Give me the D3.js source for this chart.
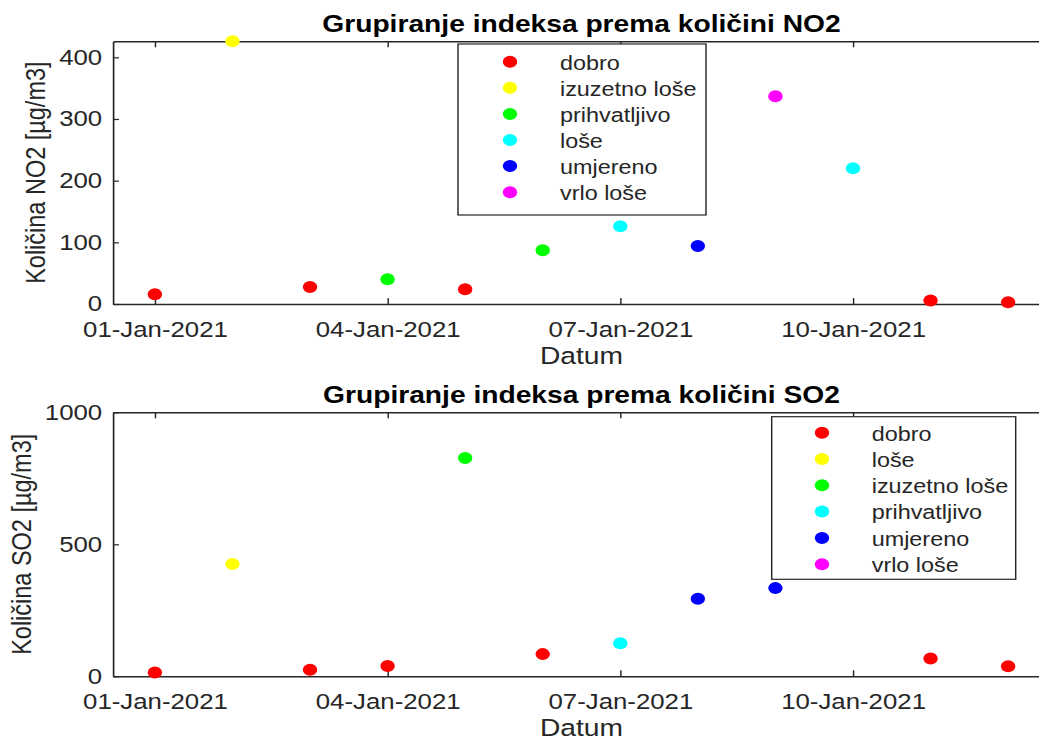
<!DOCTYPE html>
<html>
<head>
<meta charset="utf-8">
<script src="https://cdn.jsdelivr.net/npm/d3@7"></script>
<style>
body { margin: 0; background: #fff; }
text { font-family: "Liberation Sans", Arial, sans-serif; }
</style>
</head>
<body>
<svg id="chart" width="1039" height="742"></svg>
<script>
var dates = ['2021-01-01', '2021-01-02', '2021-01-03', '2021-01-04', '2021-01-05', '2021-01-06',
             '2021-01-07', '2021-01-08', '2021-01-09', '2021-01-10', '2021-01-11', '2021-01-12'];

var no2Values = [16, 426, 27.5, 40, 24, 87, 126, 94, 337, 220, 5.5, 3];
var no2Groups = ['dobro', 'izuzetno loše', 'dobro', 'prihvatljivo', 'dobro', 'prihvatljivo',
                 'loše', 'umjereno', 'vrlo loše', 'loše', 'dobro', 'dobro'];

// SO2 on 10-Jan has no visible point, only its group in the legend
var so2Values = [14, 425, 25, 39, 827, 84, 125, 294, 334, null, 67, 38];
var so2Groups = ['dobro', 'loše', 'dobro', 'dobro', 'izuzetno loše', 'dobro',
                 'prihvatljivo', 'umjereno', 'umjereno', 'vrlo loše', 'dobro', 'dobro'];

var no2Ticks = [0, 100, 200, 300, 400];
var so2Ticks = [0, 500, 1000];
var dateTicks = ['2021-01-01', '2021-01-04', '2021-01-07', '2021-01-10'];

// gscatter colours, given in order of first appearance
var groupColors = ['#ff0000', '#ffff00', '#00ff00', '#00ffff', '#0000ff', '#ff00ff'];

var SX = 1.2; // the picture is stretched sideways
var INK = '#262626';

var svg = d3.select('#chart');
svg.append('rect').attr('width', 1039).attr('height', 742).attr('fill', '#fff');
var root = svg.append('g').attr('transform', 'scale(' + SX + ',1)');

var parseDay = d3.utcParse('%Y-%m-%d');
var DAY = 864e5;
var x = d3.scaleUtc()
    .domain([+parseDay(dates[0]) - 0.54 * DAY, +parseDay(dates[dates.length - 1]) + 0.54 * DAY])
    .range([113 / SX, 1050 / SX]);
var fmt = d3.utcFormat('%d-%b-%Y');

function styleAxis(g) {
    g.attr('font-size', 21.5).attr('font-family', '"Liberation Sans", Arial, sans-serif');
    g.select('.domain').attr('stroke', INK).attr('stroke-width', 1.4);
    g.selectAll('.tick line').attr('stroke', INK).attr('stroke-width', 1.2);
    g.selectAll('.tick text').attr('fill', INK);
}

function drawPanel(values, groups, yTicks, yMax, top, bottom, title, yLabel, leg) {
    var left = x.range()[0], right = x.range()[1];
    var y = d3.scaleLinear().domain([0, yMax]).range([bottom, top]);

    var cats = [];
    groups.forEach(function(g) { if (cats.indexOf(g) < 0) cats.push(g); });
    var color = d3.scaleOrdinal(cats, groupColors);

    var panel = root.append('g');

    // box: bottom, top, left, right
    panel.append('g').attr('transform', 'translate(0,' + bottom + ')')
        .call(d3.axisBottom(x).tickValues(dateTicks.map(parseDay)).tickFormat(fmt)
            .tickSizeInner(-6).tickSizeOuter(0).tickPadding(17.4))
        .call(styleAxis);
    panel.append('g').attr('transform', 'translate(0,' + top + ')')
        .call(d3.axisTop(x).tickValues(dateTicks.map(parseDay)).tickFormat('')
            .tickSizeInner(-6).tickSizeOuter(0))
        .call(styleAxis);
    var yAxis = panel.append('g').attr('transform', 'translate(' + left + ',0)')
        .call(d3.axisLeft(y).tickValues(yTicks).tickFormat(d3.format('d'))
            .tickSizeInner(-5).tickSizeOuter(0).tickPadding(9))
        .call(styleAxis);
    panel.append('g').attr('transform', 'translate(' + right + ',0)')
        .call(d3.axisRight(y).tickValues(yTicks).tickFormat('').tickSizeInner(-5).tickSizeOuter(0))
        .call(styleAxis);

    panel.append('text')
        .attr('x', (left + right) / 2).attr('y', top - 9)
        .attr('text-anchor', 'middle').attr('font-weight', 'bold')
        .attr('font-size', 23.5).attr('fill', '#000')
        .text(title);

    panel.append('text')
        .attr('x', (left + right) / 2).attr('y', bottom + 60)
        .attr('text-anchor', 'middle').attr('font-size', 23.5).attr('fill', INK)
        .text('Datum');

    // y label sits just left of the widest tick label
    var tickBox = yAxis.node().getBBox();
    var lx = left + tickBox.x - 14 / SX;
    panel.append('text')
        .attr('transform', 'translate(' + lx + ',' + (top + bottom) / 2 + ') rotate(-90)')
        .attr('text-anchor', 'middle').attr('font-size', 23.5).attr('fill', INK)
        .text(yLabel);

    var pts = dates.map(function(d, i) {
        return { date: parseDay(d), value: values[i], group: groups[i] };
    }).filter(function(p) { return p.value != null; });

    panel.append('g').selectAll('circle')
        .data(pts)
        .join('circle')
        .attr('cx', function(p) { return x(p.date); })
        .attr('cy', function(p) { return y(p.value); })
        .attr('r', 6)
        .attr('fill', function(p) { return color(p.group); });

    // legend
    var lg = panel.append('g');
    lg.append('rect')
        .attr('x', leg.x0 / SX).attr('y', leg.y0)
        .attr('width', (leg.x1 - leg.x0) / SX).attr('height', leg.y1 - leg.y0)
        .attr('fill', '#fff').attr('stroke', INK).attr('stroke-width', 1.2);
    var rows = lg.selectAll('g.row').data(cats).join('g').attr('class', 'row')
        .attr('transform', function(c, i) { return 'translate(0,' + (leg.row0 + i * leg.step) + ')'; });
    rows.append('circle')
        .attr('cx', leg.markX / SX).attr('cy', 0).attr('r', 6)
        .attr('fill', function(c) { return color(c); });
    rows.append('text')
        .attr('x', leg.textX / SX).attr('y', 1).attr('dy', '0.35em')
        .attr('font-size', 19.5).attr('fill', INK)
        .text(function(c) { return c; });
}

drawPanel(no2Values, no2Groups, no2Ticks, d3.max(no2Values), 41.3, 304,
    'Grupiranje indeksa prema količini NO2', 'Količina NO2 [µg/m3]',
    { x0: 458, y0: 44, x1: 706, y1: 215, markX: 510, textX: 560, row0: 61.7, step: 26.1 });

drawPanel(so2Values, so2Groups, so2Ticks, 1000, 412.3, 676.3,
    'Grupiranje indeksa prema količini SO2', 'Količina SO2 [µg/m3]',
    { x0: 771.7, y0: 416.7, x1: 1015.7, y1: 579.3, markX: 822, textX: 871.7, row0: 432.7, step: 26.3 });
</script>
</body>
</html>
